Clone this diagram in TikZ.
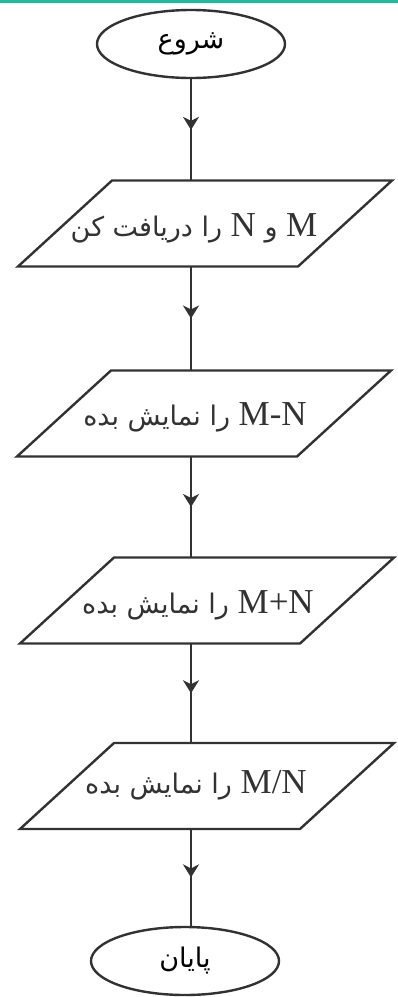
\documentclass[tikz,border=0pt]{standalone}
\usepackage{fontspec}
\usetikzlibrary{shapes.geometric,decorations.markings,arrows.meta}
\TeXXeTstate=1
\newfontfamily\arabicfont[Script=Arabic]{DejaVu Sans}
\newfontfamily\latinfont{Liberation Serif}
\definecolor{tealbar}{RGB}{26,188,160}
\definecolor{ink}{RGB}{50,50,50}
\newcommand{\fatxt}[1]{{\arabicfont\fontsize{27}{30}\selectfont #1}}
\newcommand{\latxt}[1]{{\latinfont\fontsize{35}{38}\selectfont #1}}
\begin{document}
\begin{tikzpicture}[x=1pt,y=-1pt,
  term/.style={ellipse,draw=ink,line width=2.4pt,minimum width=188pt,minimum height=68pt,inner sep=0pt},
  iobox/.style={rectangle,minimum width=374pt,minimum height=86pt,inner sep=0pt,outer sep=0pt},
  ioline/.style={draw=ink,line width=2.4pt,line join=miter},
  lbl/.style={inner sep=0pt,text=ink},
  flow/.style={draw=ink,line width=2.4pt,postaction={decorate},
    decoration={markings,mark=at position 0.5 with {\arrow{Stealth[length=13pt,width=16pt,inset=4pt]}}}}
]
\useasboundingbox (0,0) rectangle (398,997);
\fill[tealbar] (0,0) rectangle (398,3);

\node[term] (s) at (191,44) {\fatxt{\beginR شروع\endR}};
\node[iobox] (p1) at (205,223.5) {};
\node[lbl] (t1) at (194,228) {\fatxt{\beginR\latxt{M} و \latxt{N} را دریافت کن\endR}};
\node[iobox] (p2) at (204,413.5) {};
\node[lbl] (t2) at (195,417) {\fatxt{\beginR\latxt{\beginL M-N\endL} را نمایش بده\endR}};
\node[iobox] (p3) at (207,600.5) {};
\node[lbl] (t3) at (198,605) {\fatxt{\beginR\latxt{\beginL M+N\endL} را نمایش بده\endR}};
\node[iobox] (p4) at (207,786) {};
\node[lbl] (t4) at (196,785) {\fatxt{\beginR\latxt{\beginL M/N\endL} را نمایش بده\endR}};
\node[term] (e) at (185,961) {\fatxt{\beginR پایان\endR}};

\foreach \p in {p1,p2,p3,p4}
  \draw[ioline] (\p.south west) -- ([xshift=-94pt]\p.south east) -- (\p.north east)
    -- ([xshift=94pt]\p.north west) -- cycle;

\draw[flow] (s.south) -- (s.south |- p1.north);
\draw[flow] (s.south |- p1.south) -- (s.south |- p2.north);
\draw[flow] (s.south |- p2.south) -- (s.south |- p3.north);
\draw[flow] (s.south |- p3.south) -- (s.south |- p4.north);
\draw[flow] (s.south |- p4.south) -- (s.south |- e.north);
\end{tikzpicture}
\end{document}
